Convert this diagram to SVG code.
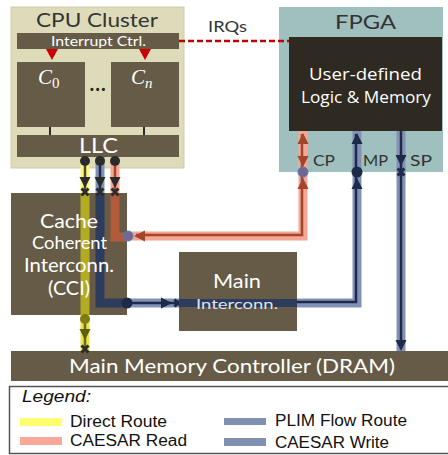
<svg xmlns="http://www.w3.org/2000/svg" xmlns:xlink="http://www.w3.org/1999/xlink" width="448" height="455" viewBox="0 0 448 455">
<style>
.box{fill:#655b46}
.lbl{font-family:Lato,"Open Sans",sans-serif;fill:#ffffff;text-anchor:middle}
.ttl{font-family:Lato,"Open Sans",sans-serif;fill:#333333;text-anchor:middle}
.port{font-family:Lato,"Open Sans",sans-serif;fill:#333333;font-size:15px}
.leg{font-family:"Liberation Sans",Arial,sans-serif;fill:#111111;font-size:16px}
.band{fill:none;stroke-width:9;stroke-linejoin:miter}
.inner{fill:none;stroke-width:2.5}
.ybd{stroke:#fbf77c}
.bbd{stroke:#8292b6}
.sbd{stroke:#f7a694}
.xm{fill:none;stroke:#2b2b2b;stroke-width:3}
</style>
<defs>
<path id="tri" d="M0,6 L-5.5,-5 L5.5,-5 Z"/>
<path id="xm" d="M-3.5,-3.5 L3.5,3.5 M3.5,-3.5 L-3.5,3.5"/>
</defs>
<rect width="448" height="455" fill="#ffffff"/>

<g id="cpu-cluster">
<rect x="11" y="7" width="173" height="161" fill="#dedbbb" stroke="#cfcbab" stroke-width="1"/>
<text class="ttl" x="97" y="27" font-size="19" textLength="122" lengthAdjust="spacingAndGlyphs">CPU Cluster</text>
</g>
<g id="interrupt-ctrl">
<rect class="box" x="17" y="33" width="162" height="16"/>
<text class="lbl" x="98.5" y="46" font-size="13" textLength="95" lengthAdjust="spacingAndGlyphs">Interrupt Ctrl.</text>
<polygon points="46,49 58,49 52,60" fill="#cc0000"/>
<polygon points="139,49 151,49 145,60" fill="#cc0000"/>
</g>
<g id="core-0">
<rect class="box" x="17" y="62" width="68" height="65"/>
<text x="38" y="84" font-family="Liberation Serif,serif" font-style="italic" font-size="21" fill="#ffffff">C<tspan font-style="normal" font-size="15" dy="4">0</tspan></text>
</g>
<text x="98" y="91" font-family="Lato,sans-serif" font-size="20" font-weight="bold" fill="#222222" text-anchor="middle" letter-spacing="1">...</text>
<g id="core-n">
<rect class="box" x="111" y="62" width="68" height="65"/>
<text x="131" y="84" font-family="Liberation Serif,serif" font-style="italic" font-size="21" fill="#ffffff">C<tspan font-size="15" dy="4">n</tspan></text>
</g>
<g id="llc">
<rect class="box" x="17" y="135" width="162" height="22"/>
<text class="lbl" x="98.5" y="153" font-size="21" textLength="39" lengthAdjust="spacingAndGlyphs">LLC</text>
</g>

<g id="fpga">
<rect x="279" y="7" width="164" height="165" fill="#9fc0be"/>
<text class="ttl" x="365.5" y="29" font-size="19" textLength="61" lengthAdjust="spacingAndGlyphs">FPGA</text>
</g>
<g id="user-logic">
<rect x="289" y="37" width="153" height="94" fill="#2e2a21"/>
<text x="365.5" y="80" font-family="'Open Sans',sans-serif" font-size="17" fill="#ffffff" text-anchor="middle" textLength="113" lengthAdjust="spacingAndGlyphs">User-defined</text>
<text x="366" y="103" font-family="'Open Sans',sans-serif" font-size="17" fill="#ffffff" text-anchor="middle" textLength="130" lengthAdjust="spacingAndGlyphs">Logic &amp; Memory</text>
</g>

<g id="cci">
<rect class="box" x="11" y="193" width="116" height="122"/>
</g>
<g id="main-interconn">
<rect class="box" x="179" y="252" width="118" height="79"/>
</g>
<g id="mmc">
<rect class="box" x="11" y="351" width="440" height="30"/>
<text class="lbl" x="232" y="373" font-size="19" textLength="326" lengthAdjust="spacingAndGlyphs">Main Memory Controller (DRAM)</text>
</g>

<g id="connectors">
<!-- IRQs -->
<line x1="179" y1="41" x2="289" y2="41" stroke="#c00000" stroke-width="2.5" stroke-dasharray="6,3"/>
<text class="port" x="208" y="32" font-size="15" textLength="39" lengthAdjust="spacingAndGlyphs">IRQs</text>

<!-- C to LLC -->
<line x1="50" y1="127" x2="50" y2="135" stroke="#2b2b2b" stroke-width="2"/>
<line x1="144" y1="127" x2="144" y2="135" stroke="#2b2b2b" stroke-width="2"/>

<!-- Direct route (yellow) -->
<path class="band ybd" d="M85,157 V193"/>
<path class="inner" stroke="#4a4a30" d="M85,160 V190"/>
<path fill="none" stroke="#b3ac22" stroke-width="9" d="M85,193 V315"/>
<path class="band" stroke="#e8e34a" d="M85,315 V351"/>
<path class="inner" stroke="#6b6a18" d="M85,318 V348"/>
<circle cx="85" cy="319" r="5" fill="#7f7c16"/>
<use xlink:href="#tri" transform="translate(85,334)" fill="#5f5d12"/>
<use xlink:href="#xm" class="xm" transform="translate(85,349)"/>

<!-- PLIM flow (blue) -->
<path class="band bbd" d="M100,157 V193"/>
<path class="inner" stroke="#1d2a48" d="M100,160 V190"/>
<path fill="none" stroke="#2d3c5d" stroke-width="9" d="M100,193 V303 H127"/>
<path class="band bbd" d="M127,303 H179"/>
<path class="inner" stroke="#1d2a48" d="M127,303 H176"/>
<circle cx="127" cy="303" r="5.5" fill="#1d2a48"/>
<use xlink:href="#tri" transform="translate(166,303) rotate(-90)" fill="#1d2a48"/>
<use xlink:href="#xm" class="xm" transform="translate(178,303)" style="stroke:#1d2a48"/>
<path fill="none" stroke="#2d3c5d" stroke-width="8" d="M179,303 H297"/>
<path class="band bbd" d="M297,303 H357 V131"/>
<path class="inner" stroke="#1d2a48" d="M297,302 H356 V134"/>
<use xlink:href="#tri" transform="translate(357,184) rotate(180)" fill="#1d2a48"/>
<circle cx="357" cy="172" r="5.5" fill="#1d2a48"/>
<use xlink:href="#tri" transform="translate(357,139) rotate(180)" fill="#1d2a48"/>

<!-- CAESAR read (salmon) -->
<path class="band sbd" d="M115,157 V193"/>
<path class="inner" stroke="#a2462b" d="M115,160 V190"/>
<path fill="none" stroke="#b35a3b" stroke-width="9" d="M115,193 V237 H127"/>
<path class="band sbd" d="M127,236 H303 V131"/>
<path class="inner" stroke="#a2462b" d="M136,235 H302 V134"/>
<circle cx="128" cy="236" r="5" fill="#76668a" stroke="#3b83d6" stroke-width="1"/>
<use xlink:href="#tri" transform="translate(140,236) rotate(90)" fill="#a2462b"/>
<use xlink:href="#tri" transform="translate(303,184) rotate(180)" fill="#a2462b"/>
<circle cx="303" cy="172" r="5" fill="#76668a" stroke="#3b83d6" stroke-width="1"/>
<use xlink:href="#tri" transform="translate(303,161)" fill="#a2462b"/>
<use xlink:href="#tri" transform="translate(303,139) rotate(180)" fill="#a2462b"/>

<!-- CAESAR write (SP) -->
<path class="band bbd" d="M401,131 V351"/>
<path class="inner" stroke="#1d2a48" d="M401,131 V346"/>
<use xlink:href="#tri" transform="translate(401,160)" fill="#1d2a48"/>
<use xlink:href="#xm" class="xm" transform="translate(401,172)" style="stroke:#1d2a48"/>
<use xlink:href="#tri" transform="translate(401,345)" fill="#1d2a48"/>

<!-- LLC outputs -->
<circle cx="85" cy="161" r="5" fill="#2b2b2b"/>
<circle cx="100" cy="161" r="5" fill="#2b2b2b"/>
<circle cx="115" cy="161" r="5" fill="#2b2b2b"/>
<use xlink:href="#tri" transform="translate(85,182)" fill="#2b2b2b"/>
<use xlink:href="#tri" transform="translate(100,182)" fill="#2b2b2b"/>
<use xlink:href="#tri" transform="translate(115,182)" fill="#2b2b2b"/>
<use xlink:href="#xm" class="xm" transform="translate(85,192)"/>
<use xlink:href="#xm" class="xm" transform="translate(100,192)"/>
<use xlink:href="#xm" class="xm" transform="translate(115,192)"/>

<text class="port" x="313" y="166" textLength="22" lengthAdjust="spacingAndGlyphs">CP</text>
<text class="port" x="363" y="166" textLength="25" lengthAdjust="spacingAndGlyphs">MP</text>
<text class="port" x="410" y="166" textLength="22" lengthAdjust="spacingAndGlyphs">SP</text>
</g>

<g id="cci-label">
<text class="lbl" x="69" y="228" font-size="19" textLength="58" lengthAdjust="spacingAndGlyphs">Cache</text>
<text class="lbl" x="69.5" y="249" font-size="17" textLength="75" lengthAdjust="spacingAndGlyphs">Coherent</text>
<text class="lbl" x="69" y="272" font-size="19" textLength="90" lengthAdjust="spacingAndGlyphs">Interconn.</text>
<text class="lbl" x="69" y="295" font-size="19" textLength="42" lengthAdjust="spacingAndGlyphs">(CCI)</text>
</g>
<g id="main-interconn-label">
<text class="lbl" x="237" y="288" font-size="20" textLength="48" lengthAdjust="spacingAndGlyphs">Main</text>
<text class="lbl" x="237" y="309" font-size="14" style="fill:#dfe3f0" textLength="82" lengthAdjust="spacingAndGlyphs">Interconn.</text>
</g>

<g id="legend">
<rect x="9.5" y="386.5" width="445" height="67" fill="#ffffff" stroke="#555555" stroke-width="1.5"/>
<text class="leg" x="22" y="402" font-size="17" font-style="italic" textLength="69" lengthAdjust="spacingAndGlyphs">Legend:</text>
<rect x="20" y="418" width="42" height="8" fill="#ffff70"/>
<text class="leg" x="70" y="427" textLength="97" lengthAdjust="spacingAndGlyphs">Direct Route</text>
<rect x="20" y="437" width="42" height="8" fill="#f9a898"/>
<text class="leg" x="70" y="446" textLength="117" lengthAdjust="spacingAndGlyphs">CAESAR Read</text>
<rect x="224" y="418" width="42" height="7" fill="#8090b0"/>
<text class="leg" x="275" y="426" textLength="132" lengthAdjust="spacingAndGlyphs">PLIM Flow Route</text>
<rect x="224" y="438" width="42" height="8" fill="#8090b0"/>
<text class="leg" x="275" y="448" textLength="114" lengthAdjust="spacingAndGlyphs">CAESAR Write</text>
</g>
</svg>
